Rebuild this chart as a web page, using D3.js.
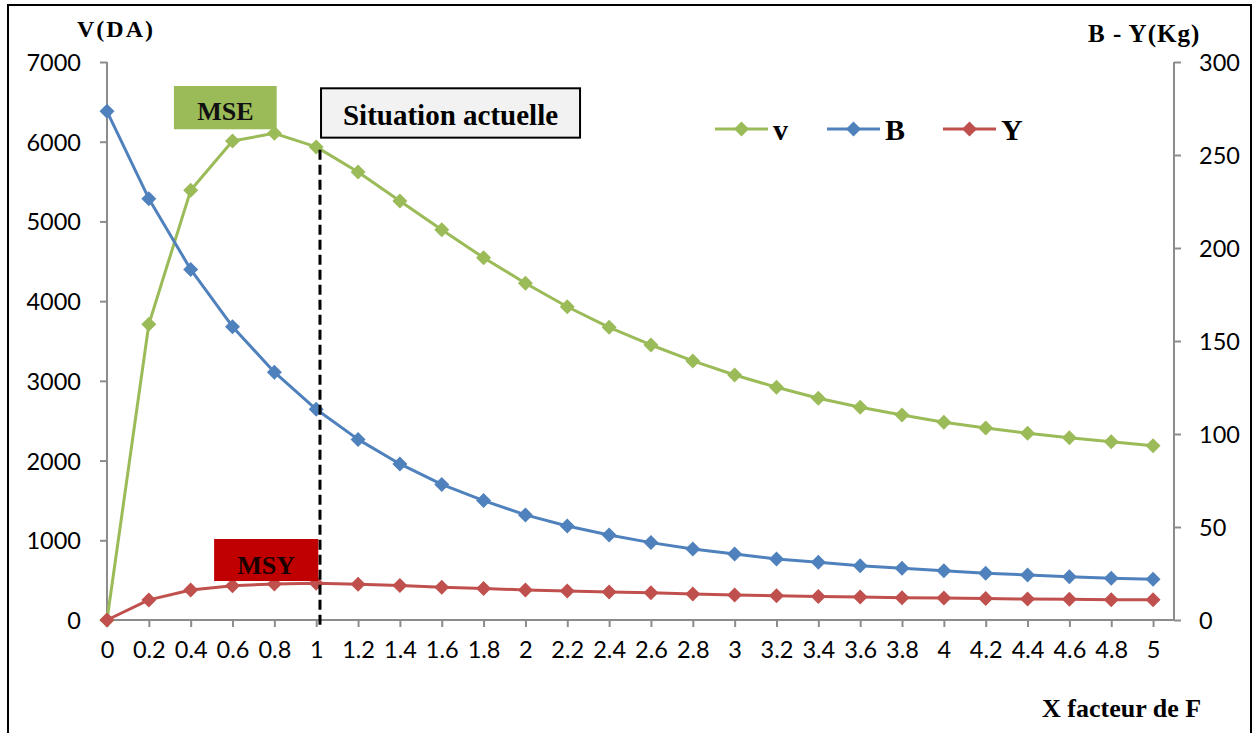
<!DOCTYPE html>
<html>
<head>
<meta charset="utf-8">
<script src="https://cdn.jsdelivr.net/npm/d3@7"></script>
<style>
  body { margin: 0; background: #fff; }
  svg { display: block; }
</style>
</head>
<body>
<svg id="chart" width="1257" height="733"></svg>
<script>
// Fishing-effort multiplier (X facteur de F)
const fValues = [0, 0.2, 0.4, 0.6, 0.8, 1, 1.2, 1.4, 1.6, 1.8, 2, 2.2, 2.4, 2.6, 2.8, 3, 3.2, 3.4, 3.6, 3.8, 4, 4.2, 4.4, 4.6, 4.8, 5];
const xTickLabels = ["0", "0.2", "0.4", "0.6", "0.8", "1", "1.2", "1.4", "1.6", "1.8", "2", "2.2", "2.4", "2.6", "2.8", "3", "3.2", "3.4", "3.6", "3.8", "4", "4.2", "4.4", "4.6", "4.8", "5"];

// Value of the catch, V (DA) — left axis
const vValues = [0, 3710, 5390, 6010, 6105, 5935, 5620, 5255, 4895, 4545, 4225, 3930, 3672, 3450, 3250, 3074, 2920, 2781, 2668, 2572, 2480, 2409, 2342, 2287, 2237, 2187];
// Biomass, B (Kg) — right axis
const bValues = [273.5, 226.5, 188.5, 157.7, 133.2, 113.3, 97.1, 83.9, 72.9, 64.2, 56.5, 50.5, 45.7, 41.6, 38.2, 35.5, 32.8, 31.0, 29.2, 27.8, 26.5, 25.1, 24.2, 23.3, 22.4, 21.9];
// Yield, Y (Kg) — right axis
const yValues = [0, 10.8, 16.1, 18.4, 19.4, 19.7, 19.2, 18.5, 17.6, 17.0, 16.1, 15.6, 15.1, 14.7, 14.0, 13.4, 13.1, 12.7, 12.4, 12.0, 11.8, 11.5, 11.3, 11.1, 10.9, 10.9];

const leftTicks = [0, 1000, 2000, 3000, 4000, 5000, 6000, 7000];
const rightTicks = [0, 50, 100, 150, 200, 250, 300];

const seriesNames = ["v", "B", "Y"];
const seriesColors = ["#9bbb59", "#4f81bd", "#c0504d"];

const svg = d3.select("#chart");
const serif = "'Liberation Serif', 'Times New Roman', serif";
const sans = "Lato, 'Open Sans', sans-serif";
const axisGrey = "#8c8c8c";

// Frame around the whole figure
svg.append("rect")
  .attr("x", 8).attr("y", 5).attr("width", 1243).attr("height", 740)
  .attr("fill", "#fff").attr("stroke", "#000").attr("stroke-width", 2);

const x = d3.scaleLinear().domain([0, 5.1]).range([107, 1174]);
const yLeft = d3.scaleLinear().domain([0, 7000]).range([620, 62]);
const yRight = d3.scaleLinear().domain([0, 300]).range([620, 62]);

// Axes
const gx = svg.append("g").attr("transform", `translate(0,${yLeft(0)})`)
  .call(d3.axisBottom(x).tickValues(fValues).tickSize(7).tickPadding(0)
    .tickFormat((d, i) => xTickLabels[i]));
const gl = svg.append("g").attr("transform", `translate(${x(0)},0)`)
  .call(d3.axisLeft(yLeft).tickValues(leftTicks).tickSize(7).tickPadding(19).tickFormat(d3.format("d")));
const gr = svg.append("g").attr("transform", `translate(${x(5.1)},0)`)
  .call(d3.axisRight(yRight).tickValues(rightTicks).tickSize(7).tickPadding(18).tickFormat(d3.format("d")));

[gx, gl, gr].forEach(g => {
  g.select(".domain").attr("stroke", axisGrey).attr("stroke-width", 2)
    .attr("d", g === gx ? `M${x(0)},0H${x(5.1)}` : (g === gl ? `M0,${yLeft(7000)}V${yLeft(0)}` : `M0,${yRight(300)}V${yRight(0)}`));
  g.selectAll(".tick line").attr("stroke", axisGrey).attr("stroke-width", 2);
  g.selectAll(".tick text").attr("fill", "#000").style("font-family", sans).style("font-size", "23.5px");
});
gx.selectAll(".tick text").attr("y", 0).attr("dy", "1.62em");
gl.selectAll(".tick text").attr("dy", "0.36em");
gr.selectAll(".tick text").attr("dy", "0.36em");

// Series lines and diamond markers
const diamond = "M0,-7.5L7.5,0L0,7.5L-7.5,0Z";
function drawSeries(values, scale, color) {
  const pts = values.map((v, i) => [x(fValues[i]), scale(v)]);
  svg.append("path").attr("d", d3.line()(pts))
    .attr("fill", "none").attr("stroke", color).attr("stroke-width", 3)
    .attr("stroke-linejoin", "round");
  svg.append("g").selectAll("path").data(pts).join("path")
    .attr("d", diamond).attr("transform", d => `translate(${d[0]},${d[1]})`)
    .attr("fill", color);
}
drawSeries(vValues, yLeft, seriesColors[0]);
drawSeries(bValues, yRight, seriesColors[1]);
drawSeries(yValues, yRight, seriesColors[2]);

// Current situation marker (F multiplier = 1)
svg.append("line")
  .attr("x1", x(1.018)).attr("x2", x(1.018))
  .attr("y1", yLeft(5900)).attr("y2", yLeft(-100))
  .attr("stroke", "#000").attr("stroke-width", 3).attr("stroke-dasharray", "10,5");

// Annotation boxes
function box(x0, x1, v0, v1, fill, stroke) {
  svg.append("rect")
    .attr("x", x(x0)).attr("y", yLeft(v1))
    .attr("width", x(x1) - x(x0)).attr("height", yLeft(v0) - yLeft(v1))
    .attr("fill", fill).attr("stroke", stroke || "none").attr("stroke-width", stroke ? 2 : 0);
}
function label(txt, px, py, size, color) {
  svg.append("text").attr("x", px).attr("y", py).attr("text-anchor", "middle")
    .style("font-family", serif).style("font-weight", "bold").style("font-size", size + "px")
    .attr("fill", color || "#000").text(txt);
}
box(0.32, 0.811, 6156, 6699, "#9bbb59");
label("MSE", (x(0.32) + x(0.811)) / 2, 120, 26, "#111");
box(1.023, 2.261, 6051, 6670, "#f2f2f2", "#000");
label("Situation actuelle", (x(1.023) + x(2.261)) / 2, 125, 29, "#000");
box(0.512, 1.01, 489, 1016, "#c00000");
label("MSY", (x(0.512) + x(1.01)) / 2, 574, 26, "#1a0000");

// Axis titles
svg.append("text").attr("x", 77).attr("y", 37)
  .style("font-family", serif).style("font-weight", "bold").style("font-size", "24px")
  .style("letter-spacing", "2px").text("V(DA)");
svg.append("text").attr("x", 1088).attr("y", 42)
  .style("font-family", serif).style("font-weight", "bold").style("font-size", "25px")
  .style("letter-spacing", "1px").text("B - Y(Kg)");
svg.append("text").attr("x", 1042).attr("y", 717)
  .style("font-family", serif).style("font-weight", "bold").style("font-size", "26px")
  .text("X facteur de F");

// Legend
const legendX = [715, 827, 943];
seriesNames.forEach((name, i) => {
  const g = svg.append("g").attr("transform", `translate(${legendX[i]},129)`);
  g.append("line").attr("x1", 0).attr("x2", 53).attr("stroke", seriesColors[i]).attr("stroke-width", 3);
  g.append("path").attr("d", diamond).attr("transform", "translate(26.5,0)").attr("fill", seriesColors[i]);
  g.append("text").attr("x", 58).attr("y", 11)
    .style("font-family", serif).style("font-weight", "bold").style("font-size", "30px")
    .attr("fill", "#000").text(name);
});
</script>
</body>
</html>
